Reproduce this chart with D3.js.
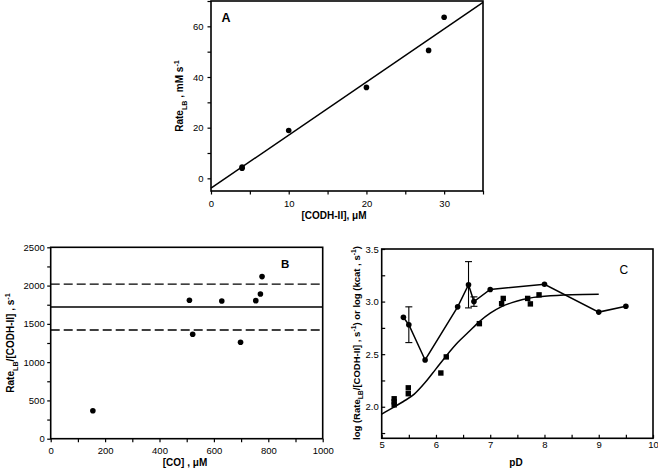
<!DOCTYPE html>
<html><head><meta charset="utf-8">
<script src="https://cdn.jsdelivr.net/npm/d3@7"></script>
<style>
body{margin:0;background:#fff;}
svg{display:block;font-family:"Liberation Sans",Arial,sans-serif;}
</style></head><body>
<svg id="chart" width="658" height="476"></svg>
<script>
// ---- Panel A data ----
const aConc = [4, 4, 10, 20, 28, 30];
const aRate = [4.5, 4.0, 18.9, 35.9, 50.5, 63.6];
const aFitX = [0, 35];
const aFitY = [-3.9, 69.5];
const aXTicks = [0, 10, 20, 30];
const aXMinor = [5, 15, 25, 35];
const aYTicks = [0, 20, 40, 60];
const aYMinor = [10, 30, 50, 70];

// ---- Panel B data ----
const bCO = [155, 510, 522, 629, 698, 754, 771, 777];
const bRate = [365, 1808, 1364, 1799, 1259, 1803, 1890, 2117];
const bMean = [1720];
const bBand = [2020, 1420];
const bXTicks = [0, 200, 400, 600, 800, 1000];
const bXMinor = [100, 300, 500, 700, 900];
const bYTicks = [0, 500, 1000, 1500, 2000, 2500];
const bYMinor = [250, 750, 1250, 1750, 2250];

// ---- Panel C data ----
const cPD = [5.4, 5.5, 5.8, 6.4, 6.6, 6.7, 7.0, 8.0, 9.0, 9.5];
const cLogK = [2.85, 2.78, 2.445, 2.95, 3.16, 3.0, 3.115, 3.165, 2.9, 2.955];
const cErr = [0, 0.17, 0, 0, 0.22, 0.045, 0, 0, 0, 0];
const sPD = [5.23, 5.23, 5.23, 5.49, 5.49, 6.09, 6.19, 6.8, 7.21, 7.24, 7.69, 7.74, 7.9];
const sLogRate = [2.076, 2.047, 2.018, 2.18, 2.124, 2.321, 2.474, 2.79, 2.98, 3.03, 3.03, 2.978, 3.064];
const fitPD = [5.0, 5.2, 5.4, 5.6, 5.8, 6.0, 6.2, 6.4, 6.6, 6.8, 7.0, 7.2, 7.4, 7.6, 7.8, 8.0, 8.5, 9.0];
const fitLog = [1.93, 1.99, 2.05, 2.12, 2.23, 2.36, 2.49, 2.61, 2.71, 2.81, 2.89, 2.95, 2.99, 3.02, 3.04, 3.05, 3.065, 3.07];
const cXTicks = [5, 6, 7, 8, 9, 10];
const cXMinor = [5.5, 6.5, 7.5, 8.5, 9.5];
const cYTicks = [2.0, 2.5, 3.0, 3.5];
const cYMinor = [1.75, 2.25, 2.75, 3.25];

const svg = d3.select('#chart');
const FONT = '"Liberation Sans", Arial, sans-serif';
const TICKFS = 9.5;

function rich(text, parts, fs) {
  let shift = 0;
  parts.forEach(([t, kind]) => {
    const target = kind === 'sub' ? fs * 0.35 : kind === 'sup' ? -fs * 0.4 : 0;
    text.append('tspan')
      .attr('dy', target - shift)
      .style('font-size', (kind === 'n' ? fs : fs * 0.72) + 'px')
      .text(t);
    shift = target;
  });
}

function styleAxis(g) {
  g.select('.domain').remove();
  g.attr('font-family', FONT).attr('font-size', TICKFS);
  g.selectAll('line').attr('stroke-width', 1.2);
}

function frame(x, y) {
  const [x0, x1] = x.range(), [y0, y1] = y.range();
  svg.append('rect')
    .attr('x', Math.min(x0, x1)).attr('y', Math.min(y0, y1))
    .attr('width', Math.abs(x1 - x0)).attr('height', Math.abs(y1 - y0))
    .attr('fill', 'none').attr('stroke', '#000').attr('stroke-width', 1.6);
}

// ================= Panel A =================
const xA = d3.scaleLinear([0, 35], [211, 483]);
const yA = d3.scaleLinear([-5, 70], [191, 1]);
svg.append('g').attr('transform', `translate(0,${yA.range()[0]})`)
  .call(d3.axisBottom(xA).tickValues(aXTicks).tickSize(3.5).tickPadding(5.5).tickFormat(d3.format('d'))).call(styleAxis);
svg.append('g').attr('transform', `translate(0,${yA.range()[0]})`)
  .call(d3.axisBottom(xA).tickValues(aXMinor).tickSize(3.5).tickFormat('')).call(styleAxis);
svg.append('g').attr('transform', `translate(${xA.range()[0]},0)`)
  .call(d3.axisLeft(yA).tickValues(aYTicks).tickSize(3.5).tickPadding(4).tickFormat(d3.format('d'))).call(styleAxis);
svg.append('g').attr('transform', `translate(${xA.range()[0]},0)`)
  .call(d3.axisLeft(yA).tickValues(aYMinor).tickSize(3.5).tickFormat('')).call(styleAxis);

svg.append('line')
  .attr('x1', xA(aFitX[0])).attr('y1', yA(aFitY[0]))
  .attr('x2', xA(aFitX[1])).attr('y2', yA(aFitY[1]))
  .attr('stroke', '#000').attr('stroke-width', 1.5);
svg.append('g').selectAll('circle').data(aConc).join('circle')
  .attr('cx', d => xA(d)).attr('cy', (d, i) => yA(aRate[i])).attr('r', 2.8).attr('fill', '#000');
frame(xA, yA);
svg.append('text').attr('x', 221.5).attr('y', 21.8).attr('font-family', FONT)
  .attr('font-weight', 'bold').attr('font-size', 12.5).text('A');
rich(svg.append('text').attr('transform', 'translate(183,96) rotate(-90)').attr('text-anchor', 'middle')
  .attr('font-family', FONT).attr('font-weight', 'bold'),
  [['Rate', 'n'], ['LB', 'sub'], [' , mM s', 'n'], ['-1', 'sup']], 10);
svg.append('text').attr('x', 334).attr('y', 218.5).attr('text-anchor', 'middle')
  .attr('font-family', FONT).attr('font-weight', 'bold').attr('font-size', 10).text('[CODH-II], \u03bcM');

// ================= Panel B =================
const xB = d3.scaleLinear([0, 1000], [50.7, 322.7]);
const yB = d3.scaleLinear([0, 2500], [438.7, 247.3]);
svg.append('g').attr('transform', `translate(0,${yB.range()[0]})`)
  .call(d3.axisBottom(xB).tickValues(bXTicks).tickSize(3.5).tickPadding(5).tickFormat(d3.format('d'))).call(styleAxis);
svg.append('g').attr('transform', `translate(0,${yB.range()[0]})`)
  .call(d3.axisBottom(xB).tickValues(bXMinor).tickSize(3.5).tickFormat('')).call(styleAxis);
svg.append('g').attr('transform', `translate(${xB.range()[0]},0)`)
  .call(d3.axisLeft(yB).tickValues(bYTicks).tickSize(3.5).tickPadding(2.5).tickFormat(d3.format('d'))).call(styleAxis);
svg.append('g').attr('transform', `translate(${xB.range()[0]},0)`)
  .call(d3.axisLeft(yB).tickValues(bYMinor).tickSize(3.5).tickFormat('')).call(styleAxis);

svg.append('g').selectAll('line').data(bMean).join('line')
  .attr('x1', xB.range()[0]).attr('x2', xB.range()[1])
  .attr('y1', d => yB(d)).attr('y2', d => yB(d))
  .attr('stroke', '#000').attr('stroke-width', 1.5);
svg.append('g').selectAll('line').data(bBand).join('line')
  .attr('x1', xB.range()[0]).attr('x2', xB.range()[1])
  .attr('y1', d => yB(d)).attr('y2', d => yB(d))
  .attr('stroke', '#000').attr('stroke-width', 1.3).attr('stroke-dasharray', '9,4');
svg.append('g').selectAll('circle').data(bCO).join('circle')
  .attr('cx', d => xB(d)).attr('cy', (d, i) => yB(bRate[i])).attr('r', 2.8).attr('fill', '#000');
frame(xB, yB);
svg.append('text').attr('x', 281).attr('y', 267.5).attr('font-family', FONT)
  .attr('font-weight', 'bold').attr('font-size', 11.5).text('B');
rich(svg.append('text').attr('transform', 'translate(14,343) rotate(-90)').attr('text-anchor', 'middle')
  .attr('font-family', FONT).attr('font-weight', 'bold'),
  [['Rate', 'n'], ['LB', 'sub'], ['/[CODH-II] , s', 'n'], ['-1', 'sup']], 10);
svg.append('text').attr('x', 185).attr('y', 466).attr('text-anchor', 'middle')
  .attr('font-family', FONT).attr('font-weight', 'bold').attr('font-size', 10).text('[CO] , \u03bcM');

// ================= Panel C =================
const xC = d3.scaleLinear([5, 10], [381.7, 653]);
const yC = d3.scaleLinear([1.7, 3.5], [438.3, 249]);
svg.append('g').attr('transform', `translate(0,${yC.range()[0]})`)
  .call(d3.axisBottom(xC).tickValues(cXTicks).tickSize(-3.5).tickPadding(3).tickFormat(d3.format('d'))).call(styleAxis);
svg.append('g').attr('transform', `translate(0,${yC.range()[0]})`)
  .call(d3.axisBottom(xC).tickValues(cXMinor).tickSize(-3.5).tickFormat('')).call(styleAxis);
svg.append('g').attr('transform', `translate(${xC.range()[0]},0)`)
  .call(d3.axisLeft(yC).tickValues(cYTicks).tickSize(-3.5).tickPadding(3).tickFormat(d3.format('.1f'))).call(styleAxis);
svg.append('g').attr('transform', `translate(${xC.range()[0]},0)`)
  .call(d3.axisLeft(yC).tickValues(cYMinor).tickSize(-3.5).tickFormat('')).call(styleAxis);

// fitted curve
const fitLine = d3.line().x(d => xC(d[0])).y(d => yC(d[1])).curve(d3.curveMonotoneX);
svg.append('path').datum(fitPD.map((p, i) => [p, fitLog[i]]))
  .attr('d', fitLine).attr('fill', 'none').attr('stroke', '#000').attr('stroke-width', 1.5);
// connected circles
const conLine = d3.line().x(d => xC(d[0])).y(d => yC(d[1]));
svg.append('path').datum(cPD.map((p, i) => [p, cLogK[i]]))
  .attr('d', conLine).attr('fill', 'none').attr('stroke', '#000').attr('stroke-width', 1.5);
// error bars
const eb = svg.append('g').attr('stroke', '#000').attr('stroke-width', 1.1);
cPD.forEach((p, i) => {
  if (!cErr[i]) return;
  const x = xC(p), yt = yC(cLogK[i] + cErr[i]), yb = yC(cLogK[i] - cErr[i]);
  eb.append('line').attr('x1', x).attr('x2', x).attr('y1', yt).attr('y2', yb);
  eb.append('line').attr('x1', x - 3.5).attr('x2', x + 3.5).attr('y1', yt).attr('y2', yt);
  eb.append('line').attr('x1', x - 3.5).attr('x2', x + 3.5).attr('y1', yb).attr('y2', yb);
});
svg.append('g').selectAll('circle').data(cPD).join('circle')
  .attr('cx', d => xC(d)).attr('cy', (d, i) => yC(cLogK[i])).attr('r', 2.8).attr('fill', '#000');
svg.append('g').selectAll('rect').data(sPD).join('rect')
  .attr('x', d => xC(d) - 2.7).attr('y', (d, i) => yC(sLogRate[i]) - 2.7)
  .attr('width', 5.4).attr('height', 5.4).attr('fill', '#000');
frame(xC, yC);
svg.append('text').attr('x', 619.5).attr('y', 273.5).attr('font-family', FONT)
  .attr('font-size', 12).text('C');
rich(svg.append('text').attr('transform', 'translate(360,343) rotate(-90)').attr('text-anchor', 'middle')
  .attr('font-family', FONT).attr('font-weight', 'bold'),
  [['log (Rate', 'n'], ['LB', 'sub'], ['/[CODH-II] , s', 'n'], ['-1', 'sup'], [') or log (kcat , s', 'n'], ['-1', 'sup'], [')', 'n']], 9.5);
svg.append('text').attr('x', 516).attr('y', 466).attr('text-anchor', 'middle')
  .attr('font-family', FONT).attr('font-weight', 'bold').attr('font-size', 10).text('pD');
</script>
</body></html>
